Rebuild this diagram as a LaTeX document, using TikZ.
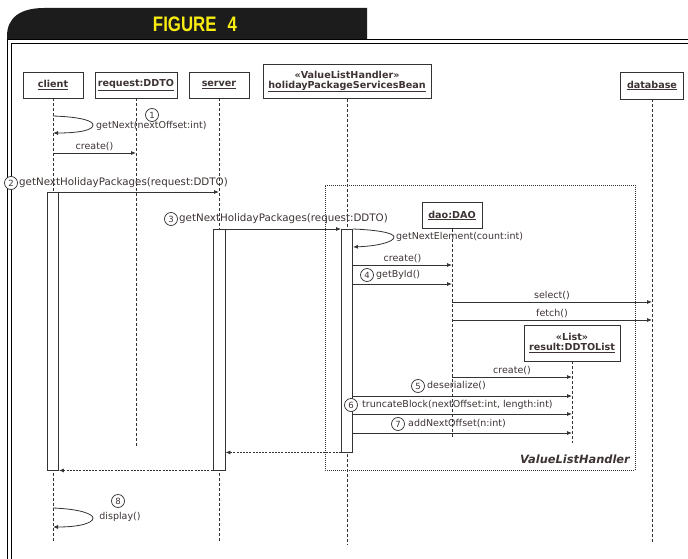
\documentclass[tikz,border=0pt]{standalone}
\usepackage{fontspec}
\setmainfont{DejaVu Sans}
\newfontfamily\bannerfont{Liberation Sans}
\usetikzlibrary{arrows.meta}
\definecolor{ink}{HTML}{333333}
\definecolor{txt}{HTML}{3E3333}
\definecolor{banner}{HTML}{1C1C1C}
\definecolor{figyellow}{HTML}{F8EC10}

\begin{document}
\begin{tikzpicture}[x=1pt,y=-1pt,
  obj/.style={draw=ink, line width=0.9pt, fill=white, inner sep=1pt, minimum height=26pt,
    font=\fontsize{9.6}{11}\selectfont\bfseries, text=txt, align=center},
  life/.style={draw=ink, line width=0.8pt, dash pattern=on 3pt off 2pt},
  actbar/.style={draw=ink, line width=0.9pt, fill=white, minimum width=11pt, inner sep=0pt},
  msg/.style={draw=ink, line width=0.8pt, -{Latex[length=5pt,width=4pt]}},
  ret/.style={msg, dash pattern=on 2pt off 1.2pt},
  lbl/.style={font=\fontsize{9.5}{11}\selectfont, text=txt, inner sep=1pt},
  widelbl/.style={lbl, font=\fontsize{10.3}{12}\selectfont},
  num/.style={circle, draw=ink, line width=0.7pt, fill=white, minimum size=13pt, inner sep=0pt,
    font=\fontsize{8.5}{9}\selectfont, text=txt},
  frag/.style={draw=ink, line width=0.7pt, dash pattern=on 1pt off 1pt},
]
\useasboundingbox (0,0) rectangle (688,559);
\fill[white] (0,0) rectangle (688,559);

% title banner and double frame
\fill[banner] (7,40) -- (7,36) .. controls (7,18) and (20,8) .. (44,8) -- (367,8) -- (367,40) -- cycle;
\node[text=figyellow, inner sep=0pt] (title) at (195,24.5)
  {\scalebox{0.8}[1]{\bannerfont\fontsize{21}{22}\selectfont\bfseries FIGURE\hspace{14pt}4}};
\draw[black, line width=1.8pt] (7.5,559) -- (7.5,39.5) -- (688,39.5);
\draw[black, line width=1.2pt] (11.5,559) -- (11.5,43.5) -- (688,43.5);

% ValueListHandler fragment
\node[frag, minimum width=310pt, minimum height=285pt, inner sep=0pt] (vlh) at (480,327.5) {};
\node[anchor=east, font=\fontsize{11.4}{13}\selectfont\bfseries\itshape, text=txt, inner sep=0pt]
  (vlhname) at (630,459) {ValueListHandler};

% objects
\node[obj, minimum width=60pt] (client) at (53,85) {\underline{client}};
\node[obj, minimum width=82pt] (req) at (136,85) {\underline{request:DDTO}};
\node[obj, minimum width=60pt] (server) at (219,85) {\underline{server}};
\node[obj, minimum width=168pt, minimum height=34pt] (bean) at (347,81.5)
  {«ValueListHandler»\\[-1pt]\underline{holidayPackageServicesBean}};
\node[obj, minimum width=63pt, minimum height=27pt] (db) at (652,85.5) {\underline{database}};
\node[obj, minimum width=60pt] (dao) at (452,215.5) {\underline{dao:DAO}};
\node[obj, minimum width=96pt, minimum height=36pt] (result) at (572,343)
  {«List»\\[-1pt]\underline{result:DDTOList}};

% lifelines
\draw[life] (client.south) -- (client.south |- 0,542);
\draw[life] (req.south) -- (req.south |- 0,448);
\draw[life] (server.south) -- (server.south |- 0,542);
\draw[life] (bean.south) -- (bean.south |- 0,545);
\draw[life] (db.south) -- (db.south |- 0,542);
\draw[life] (dao.south) -- (dao.south |- 0,437);
\draw[life] (result.south) -- (result.south |- 0,443);

% activation bars
\node[actbar, minimum height=278pt] (cbar) at (53,331) {};
\node[actbar, minimum width=12pt, minimum height=241pt] (sbar) at (219,349.5) {};
\node[actbar, minimum height=223pt] (bbar) at (347,340.5) {};

% 1: client calls itself
\draw[msg] (client.south |- 0,116) .. controls (82,117) and (93,121) .. (93,125)
  .. controls (93,130) and (80,133) .. (client.south |- 0,133);
\node[num] (n1) at (152,115) {1};
\node[lbl, anchor=west] (l1) at (95,126) {getNext(nextOffset:int)};
\draw[msg] (client.south |- 0,153) -- node[lbl, above=1pt] (l1b) {create()} (req.south |- 0,153);

% 2: client to server
\node[num] (n2) at (11,183) {2};
\node[widelbl, anchor=west] (l2) at (18,183) {getNextHolidayPackages(request:DDTO)};
\draw[msg] (cbar.east |- 0,192) -- (server.south |- 0,192);

% 3: server to bean
\node[num] (n3) at (171,219) {3};
\node[widelbl, anchor=west] (l3) at (178,219) {getNextHolidayPackages(request:DDTO)};
\draw[msg] (sbar.east |- 0,229) -- (bbar.west |- 0,229);

% bean calls itself
\draw[msg] (bbar.east |- 0,229) .. controls (378,230) and (394,233) .. (394,237)
  .. controls (394,242) and (378,246) .. (bbar.east |- 0,247);
\node[lbl, anchor=west] (lne) at (395,237) {getNextElement(count:int)};

% bean to dao
\draw[msg] (bbar.east |- 0,265) -- node[lbl, above=1pt] (lc2) {create()} (dao.south |- 0,265);
\node[num] (n4) at (367,275) {4};
\node[lbl, anchor=west] (l4) at (375,275) {getById()};
\draw[msg] (bbar.east |- 0,284) -- (dao.south |- 0,284);

% dao to database
\draw[msg] (dao.south |- 0,302) -- node[lbl, above=1pt] (lsel) {select()} (db.south |- 0,302);
\draw[msg] (dao.south |- 0,320) -- node[lbl, above=1pt] (lfet) {fetch()} (db.south |- 0,320);

% dao creates the result list
\draw[msg] (dao.south |- 0,377) -- node[lbl, above=1pt] (lc3) {create()} (result.south |- 0,377);

% bean to result list
\draw[msg] (bbar.east |- 0,396) -- (result.south |- 0,396);
\draw[msg] (bbar.east |- 0,414) -- (result.south |- 0,414);
\draw[msg] (bbar.east |- 0,433) -- (result.south |- 0,433);
\node[num] (n5) at (418,386) {5};
\node[lbl, anchor=west] (l5) at (426,386) {deserialize()};
\node[num] (n6) at (351,405) {6};
\node[lbl, anchor=west] (l6) at (361,405) {truncateBlock(nextOffset:int, length:int)};
\node[num] (n7) at (398,424) {7};
\node[lbl, anchor=west] (l7) at (407,424) {addNextOffset(n:int)};

% returns
\draw[ret] (bbar.south west) -- (sbar.east |- bbar.south);
\draw[ret] (sbar.south west) -- (cbar.south east);

% 8: client displays
\draw[msg] (client.south |- 0,508) .. controls (80,509) and (93,514) .. (93,518)
  .. controls (93,523) and (80,527) .. (client.south |- 0,527);
\node[num] (n8) at (118,501) {8};
\node[lbl] (l8) at (120,517) {display()};
\end{tikzpicture}
\end{document}
